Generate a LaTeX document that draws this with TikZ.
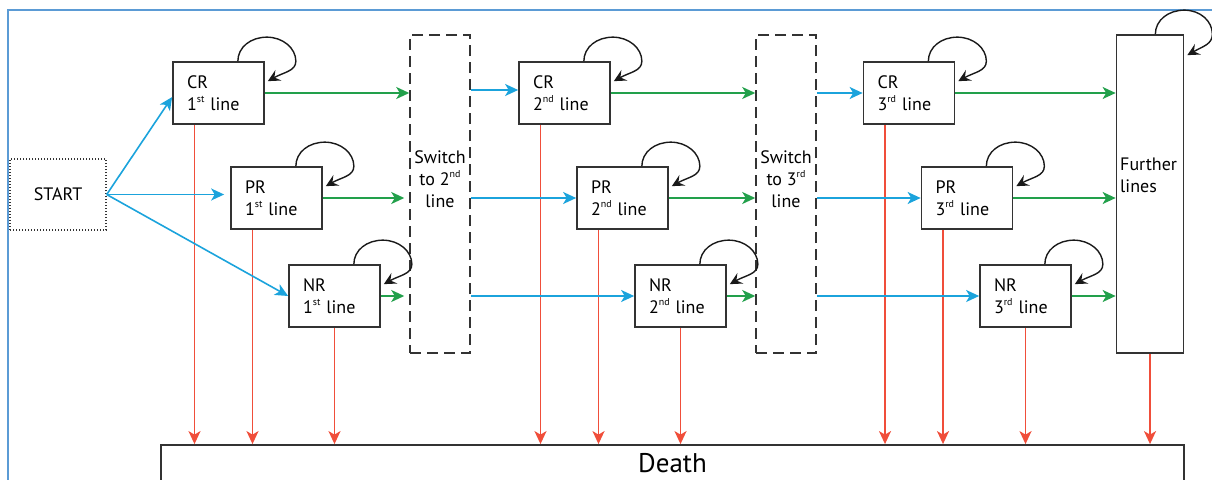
\documentclass[tikz,border=0pt]{standalone}
\usepackage{fontspec}
\setmainfont{PT Sans}
\usetikzlibrary{arrows.meta,calc}
\definecolor{frameblue}{HTML}{5B9BD5}
\definecolor{arrblue}{HTML}{1BA3DC}
\definecolor{arrgreen}{HTML}{22A04B}
\definecolor{arrred}{HTML}{F04E3A}
\definecolor{boxgray}{HTML}{333333}
\newcommand\ordsup[1]{\raisebox{0.42em}{\fontsize{10}{10}\selectfont #1}}
\tikzset{
  statebox/.style={draw=boxgray,line width=1.7pt,minimum width=91pt,minimum height=62pt,
    text width=63pt,align=left,inner sep=0pt,font=\fontsize{18}{22}\selectfont},
  switchbox/.style={draw=boxgray,line width=1.5pt,dash pattern=on 11pt off 6pt,
    minimum width=60pt,minimum height=318pt,inner sep=0pt},
  tip/.style={-{Stealth[length=13pt,width=12pt,inset=3.5pt]}},
  bluearr/.style={draw=arrblue,line width=1.6pt,tip},
  greenarr/.style={draw=arrgreen,line width=1.6pt,tip},
  redarr/.style={draw=arrred,line width=1.8pt,tip},
  loopar/.style={draw=black!90,line width=1.4pt,-{Stealth[length=12pt,width=12pt,inset=4.5pt]}},
  lbl/.style={font=\fontsize{18}{22}\selectfont,inner sep=0pt}
}
\newcommand\myloop[1]{%
  \draw[loopar] ([xshift=-27pt]#1.north east)
    .. controls +(0,-14) and +(-16,0) .. ([xshift=2pt,yshift=24pt]#1.north east)
    .. controls +(16,0) and +(0,-13) .. ([xshift=31pt]#1.north east)
    .. controls +(0,10) and +(16,-9) .. ([xshift=3pt,yshift=-20pt]#1.north east);}
\begin{document}
\begin{tikzpicture}[x=1pt,y=-1pt]
\clip (0,0) rectangle (1212,479);
\useasboundingbox (0,0) rectangle (1212,479);
\draw[frameblue,line width=2pt] (8,10) rectangle (1230,500);

% nodes
\node[draw=boxgray,line width=1.4pt,dash pattern=on 1.4pt off 1.6pt,minimum width=96pt,minimum height=71pt,
  font=\fontsize{18}{22}\selectfont,inner sep=0pt] (start) at (58,194.5) {START};
\node[statebox] (cr1) at (218.5,93) {CR\\1\ordsup{st} line};
\node[statebox] (pr1) at (276.5,198) {PR\\1\ordsup{st} line};
\node[statebox] (nr1) at (334.5,296) {NR\\1\ordsup{st} line};
\node[switchbox] (sw1) at (440,194) {};
\node[lbl,align=center] (sw1t) at (440,179) {Switch\\to 2\ordsup{nd}\\line};
\node[statebox] (cr2) at (564.5,93) {CR\\2\ordsup{nd} line};
\node[statebox] (pr2) at (622.5,198) {PR\\2\ordsup{nd} line};
\node[statebox] (nr2) at (680.5,296) {NR\\2\ordsup{nd} line};
\node[switchbox] (sw2) at (786,194) {};
\node[lbl,align=center] (sw2t) at (786,179) {Switch\\to 3\ordsup{rd}\\line};
\node[statebox] (cr3) at (909,93) {CR\\3\ordsup{rd} line};
\node[statebox] (pr3) at (967,198) {PR\\3\ordsup{rd} line};
\node[statebox] (nr3) at (1025.5,296) {NR\\3\ordsup{rd} line};
\node[draw=boxgray,line width=1.7pt,minimum width=67pt,minimum height=318pt,inner sep=0pt] (fur) at (1150,194) {};
\node[lbl,align=left,anchor=west] (furt) at (1120,175) {Further\\lines};
\node[draw=boxgray,line width=1.8pt,minimum width=1023pt,minimum height=36pt,
  font=\fontsize{27}{30}\selectfont,inner sep=0pt] (death) at (672.5,463) {Death};

% red arrows to death
\foreach \n in {cr1,pr1,cr2,pr2,cr3,pr3}{
  \draw[redarr] ([xshift=-24pt]\n.south) -- ([xshift=-24pt]\n.south |- death.north);}
\foreach \n in {nr1,nr2,nr3,fur}{
  \draw[redarr] (\n.south) -- (\n.south |- death.north);}

% blue from start
\draw[bluearr] (start.east) -- ([yshift=-4pt]cr1.west);
\draw[bluearr,shorten >=6pt] (start.east) -- (start.east -| pr1.west);
\draw[bluearr] (start.east) -- (nr1.west);

% green to switches / further
\draw[greenarr] (cr1.east) -- (cr1.east -| sw1.west);
\draw[greenarr,shorten >=5pt] (pr1.east) -- (pr1.east -| sw1.west);
\draw[greenarr,shorten >=5pt] (nr1.east) -- (nr1.east -| sw1.west);
\draw[greenarr] (cr2.east) -- (cr2.east -| sw2.west);
\draw[greenarr] (pr2.east) -- (pr2.east -| sw2.west);
\draw[greenarr] (nr2.east) -- (nr2.east -| sw2.west);
\draw[greenarr] (cr3.east) -- (cr3.east -| fur.west);
\draw[greenarr] (pr3.east) -- (pr3.east -| fur.west);
\draw[greenarr] (nr3.east) -- (nr3.east -| fur.west);

% blue from switches
\draw[bluearr] ([yshift=3pt]sw1.east |- cr2.west) -- ([yshift=3pt]cr2.west);
\draw[bluearr] (sw1.east |- pr2.west) -- (pr2.west);
\draw[bluearr] (sw1.east |- nr2.west) -- (nr2.west);
\draw[bluearr] (sw2.east |- cr3.west) -- (cr3.west);
\draw[bluearr] (sw2.east |- pr3.west) -- (pr3.west);
\draw[bluearr] (sw2.east |- nr3.west) -- (nr3.west);

% self loops
\foreach \n in {cr1,pr1,nr1,cr2,pr2,nr2,cr3,pr3,nr3}{\myloop{\n}}
\draw[loopar] ([xshift=-29pt]fur.north east)
    .. controls +(0,-14) and +(-16,0) .. ([xshift=0pt,yshift=24pt]fur.north east)
    .. controls +(16,0) and +(0,-13) .. ([xshift=28pt]fur.north east)
    .. controls +(0,10) and +(16,-9) .. ([xshift=3pt,yshift=-21pt]fur.north east);
\end{tikzpicture}
\end{document}
